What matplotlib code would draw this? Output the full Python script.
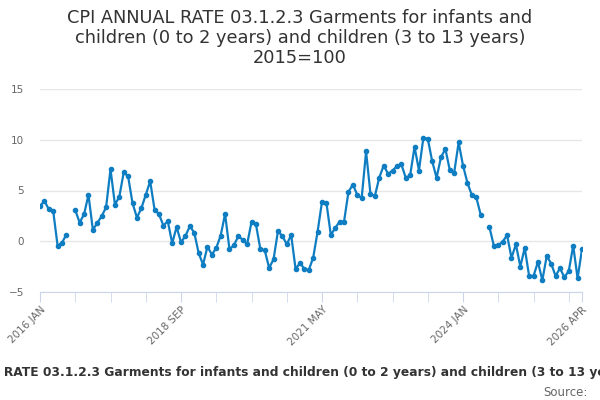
import matplotlib
matplotlib.use('Agg')
import matplotlib.pyplot as plt
import numpy as np

plt.rcParams['font.family'] = ['DejaVu Sans']

# 月度数据 2016 JAN .. 2026 APR，nan = 缺失
values = [
    3.45, 3.97, 3.15, 2.96, -0.46, -0.13, 0.66, np.nan, 3.06, 1.84,
    2.66, 4.57, 1.12, 1.81, 2.47, 3.35, 7.1, 3.62, 4.37, 6.8,
    6.38, 3.75, 2.33, 3.25, 4.57, 5.92, 3.12, 2.66, 1.55, 1.97,
    -0.2, 1.41, -0.1, 0.52, 1.48, 0.86, -1.15, -2.3, -0.53, -1.31,
    -0.66, 0.56, 2.69, -0.79, -0.39, 0.49, 0.16, -0.3, 1.9, 1.68,
    -0.76, -0.89, -2.63, -1.78, 0.99, 0.52, -0.3, 0.62, -2.73, -2.14,
    -2.73, -2.83, -1.61, 0.95, 3.91, 3.78, 0.62, 1.31, 1.94, 1.94,
    4.86, 5.59, 4.57, 4.24, 8.85, 4.63, 4.47, 6.28, 7.46, 6.64,
    6.97, 7.4, 7.59, 6.25, 6.5, 9.3, 6.97, 10.19, 10.09, 7.89,
    6.25, 8.28, 9.1, 7.0, 6.77, 9.73, 7.46, 5.75, 4.54, 4.34,
    2.63, np.nan, 1.38, -0.46, -0.39, -0.03, 0.59, -1.64, -0.3, -2.5,
    -0.66, -3.42, -3.42, -2.04, -3.85, -1.45, -2.2, -3.42, -2.66, -3.55,
    -2.93, -0.43, -3.65, -0.79,
]
tick_pos = [0, 32, 64, 96, 123]
tick_labels = ['2016 JAN', '2018 SEP', '2021 MAY', '2024 JAN', '2026 APR']
minor_pos = [8, 16, 24, 40, 48, 56, 72, 80, 88, 104, 112, 120]
y_ticks = [-5, 0, 5, 10, 15]

title = ('CPI ANNUAL RATE 03.1.2.3 Garments for infants and\n'
         'children (0 to 2 years) and children (3 to 13 years)\n2015=100')
cap_hidden = 'CPI ANNUAL '
caption = ('RATE 03.1.2.3 Garments for infants and children '
           '(0 to 2 years) and children (3 to 13 years) 2015=100')

fig = plt.figure(figsize=(6, 4), dpi=100)
ax = fig.add_axes([40 / 600, 108 / 400, 542 / 600, 203 / 400])

x = np.arange(len(values))
ax.plot(x, values, color='#0f7dc2', lw=1.6, marker='o', ms=3, zorder=3)

ax.set_xlim(0, 123)
ax.set_ylim(-5, 15)
ax.set_yticks(y_ticks)
ax.set_xticks(tick_pos)
ax.set_xticks(minor_pos, minor=True)
ax.set_xticklabels(tick_labels, rotation=45, ha='right', rotation_mode='anchor',
                   fontsize=7.5, color='#666666')
ax.tick_params(axis='x', which='both', length=7, color='#ccd6eb', pad=2)
ax.tick_params(axis='y', length=0, labelsize=7.5, labelcolor='#666666', pad=11.5)
ax.grid(axis='y', color='#e6e6e6', lw=1)
for s in ['top', 'right', 'left']:
    ax.spines[s].set_visible(False)
ax.spines['bottom'].set_color('#ccd6eb')
ax.set_axisbelow(True)

fig.text(0.5, 0.978, title, ha='center', va='top', fontsize=12.8,
         color='#333333', linespacing=1.15)

# 下方说明文字：前缀在图外被截掉
fig.canvas.draw()
r = fig.canvas.get_renderer()
tmp = fig.text(0, 0, cap_hidden, fontsize=8.8, fontweight='bold')
w = tmp.get_window_extent(r).width
tmp.remove()
fig.text((4 - w) / 600, 0.052, cap_hidden + caption, ha='left', va='bottom',
         fontsize=8.8, fontweight='bold', color='#333333')
fig.text(0.98, 0.003, 'Source:', ha='right', va='bottom', fontsize=8.5,
         color='#666666')

fig.savefig('out.png', dpi=100)
